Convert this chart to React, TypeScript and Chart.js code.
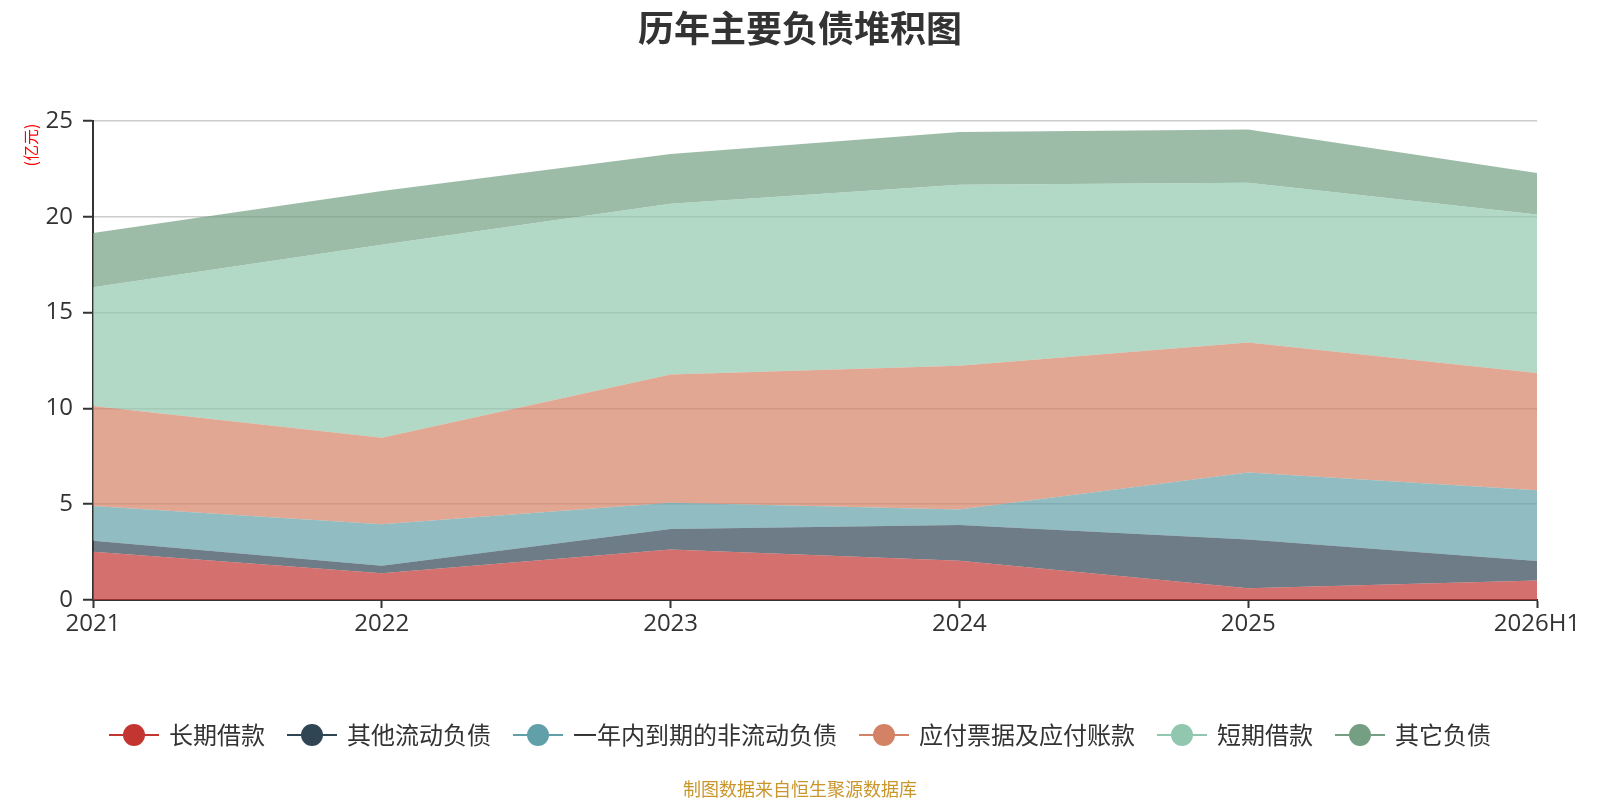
import React, { useEffect, useRef } from "react";
import { Chart, registerables } from "chart.js";

Chart.register(...registerables);

const categories = ["2021", "2022", "2023", "2024", "2025", "2026H1"];
const seriesNames = ["长期借款", "其他流动负债", "一年内到期的非流动负债", "应付票据及应付账款", "短期借款", "其它负债"];
const longTermLoans = [2.52, 1.39, 2.64, 2.05, 0.61, 1.02];
const otherCurrentLiab = [0.57, 0.4, 1.06, 1.86, 2.55, 1.01];
const currentNonCurrent = [1.81, 2.17, 1.37, 0.81, 3.49, 3.7];
const notesAccountsPayable = [5.22, 4.51, 6.7, 7.5, 6.79, 6.12];
const shortTermLoans = [6.2, 10.07, 8.91, 9.45, 8.34, 8.27];
const otherLiab = [2.84, 2.81, 2.6, 2.76, 2.77, 2.17];
const yTicks = [0, 5, 10, 15, 20, 25];

const colors = ["#c23531", "#2f4554", "#61a0a8", "#d48265", "#91c7ae", "#749f83"];
const FONT = "'Noto Sans CJK SC', 'Noto Sans', sans-serif";
const TICK_FONT = "'Open Sans', 'Noto Sans', sans-serif";

function hexA(hex: string, a: number) {
  const r = parseInt(hex.slice(1, 3), 16);
  const g = parseInt(hex.slice(3, 5), 16);
  const b = parseInt(hex.slice(5, 7), 16);
  return `rgba(${r},${g},${b},${a})`;
}

const decorPlugin = {
  id: "decor",
  afterDraw(chart: any) {
    const ctx = chart.ctx as CanvasRenderingContext2D;
    ctx.save();
    // title
    ctx.fillStyle = "#333";
    ctx.font = `bold 36px ${FONT}`;
    ctx.textAlign = "center";
    ctx.textBaseline = "middle";
    ctx.fillText("历年主要负债堆积图", 800, 28);

    // y unit label
    ctx.save();
    ctx.translate(31, 145);
    ctx.rotate(-Math.PI / 2);
    ctx.fillStyle = "#ff0000";
    ctx.font = `16px ${FONT}`;
    ctx.textAlign = "center";
    ctx.textBaseline = "middle";
    ctx.fillText("(亿元)", 0, 0);
    ctx.restore();

    // legend
    ctx.font = `24px ${FONT}`;
    const symW = 50;
    const symGap = 10;
    const itemGap = 22;
    const datasets = chart.data.datasets;
    const widths = datasets.map((d: any) => ctx.measureText(d.label).width);
    let total = 0;
    widths.forEach((w: number, i: number) => {
      total += symW + symGap + w + (i < widths.length - 1 ? itemGap : 0);
    });
    let x = 800 - total / 2;
    const ly = 735;
    datasets.forEach((d: any, i: number) => {
      const c = d.legendColor;
      ctx.strokeStyle = c;
      ctx.lineWidth = 2;
      ctx.beginPath();
      ctx.moveTo(x, ly);
      ctx.lineTo(x + symW, ly);
      ctx.stroke();
      ctx.fillStyle = c;
      ctx.beginPath();
      ctx.arc(x + symW / 2, ly, 11, 0, Math.PI * 2);
      ctx.fill();
      ctx.fillStyle = "#333";
      ctx.textAlign = "left";
      ctx.textBaseline = "middle";
      ctx.fillText(d.label, x + symW + symGap, ly);
      x += symW + symGap + widths[i] + itemGap;
    });

    // source
    ctx.fillStyle = "#c9962b";
    ctx.font = `18px ${FONT}`;
    ctx.textAlign = "center";
    ctx.textBaseline = "middle";
    ctx.fillText("制图数据来自恒生聚源数据库", 800, 789);
    ctx.restore();
  },
};

export default function App() {
  const ref = useRef<HTMLCanvasElement | null>(null);
  useEffect(() => {
    document.body.style.margin = "0";
    if (!ref.current) return;
    const values = [longTermLoans, otherCurrentLiab, currentNonCurrent, notesAccountsPayable, shortTermLoans, otherLiab];
    const chart = new Chart(ref.current, {
      type: "line",
      data: {
        labels: categories,
        datasets: values.map((v, i) => ({
          label: seriesNames[i],
          data: v,
          legendColor: colors[i],
          borderColor: hexA(colors[i], 0.7),
          backgroundColor: hexA(colors[i], 0.7),
          borderWidth: 0,
          pointRadius: 0,
          tension: 0,
          fill: i === 0 ? "origin" : "-1",
        })) as any,
      },
      options: {
        animation: false,
        responsive: false,
        devicePixelRatio: 1,
        layout: { padding: { left: 0, top: 121, right: 63, bottom: 160 } },
        plugins: {
          legend: { display: false },
          title: { display: false },
          tooltip: { enabled: false },
        },
        scales: {
          x: {
            type: "category",
            offset: false,
            grid: {
              drawOnChartArea: false,
              drawTicks: true,
              tickLength: 8,
              tickColor: "#333",
              tickWidth: 2,
            },
            border: { color: "#333", width: 2 },
            ticks: {
              color: "#333",
              font: { family: TICK_FONT, size: 24 },
              padding: 2,
              maxRotation: 0,
              autoSkip: false,
            },
            afterFit: (s: any) => {
              s.height = 40;
            },
          },
          y: {
            stacked: true,
            min: 0,
            max: 25,
            afterBuildTicks: (s: any) => {
              s.ticks = yTicks.map((v) => ({ value: v }));
            },
            grid: {
              color: "#cccccc",
              lineWidth: 1.5,
              tickLength: 10,
              tickColor: "#333",
              tickWidth: 2,
            },
            border: { color: "#333", width: 2 },
            ticks: {
              color: "#333",
              font: { family: TICK_FONT, size: 24 },
              padding: 10,
            },
            afterFit: (s: any) => {
              s.width = 93;
            },
          },
        },
      },
      plugins: [decorPlugin],
    });
    return () => chart.destroy();
  }, []);
  return <canvas ref={ref} width={1600} height={800} style={{ display: "block", width: 1600, height: 800 }} />;
}
